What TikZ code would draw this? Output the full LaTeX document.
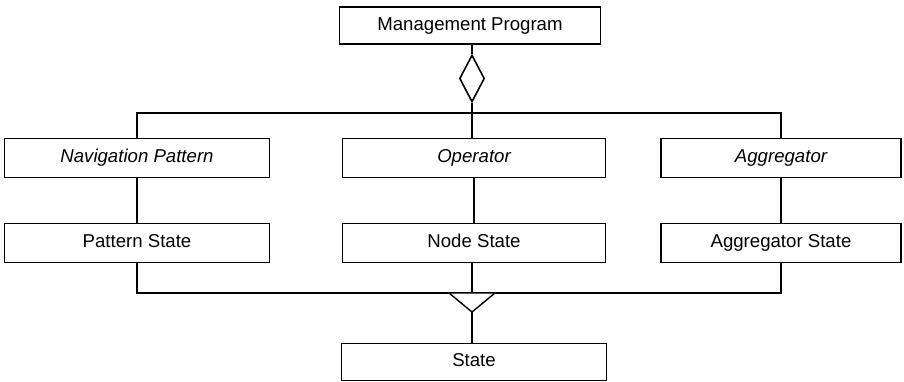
\documentclass[tikz,border=0pt]{standalone}
\usepackage{fontspec}
\setmainfont{Liberation Sans}
\usetikzlibrary{shapes,calc,positioning}
\tikzstyle{block} = [draw, fill=white, rectangle, line width=0.9pt,
	minimum height=0.78cm, minimum width=5.3cm, inner sep=0pt, text height=2.7mm, text depth=0.8mm,
	font=\fontsize{10.6}{12.7}\selectfont]
\tikzstyle{whole} = [draw, diamond, line width=0.9pt, minimum width=0.5cm, minimum height=0.94cm, inner sep=0pt]
\tikzstyle{link} = [line width=0.8pt]

\begin{document}
\begin{tikzpicture}[x=0.02cm, y=-0.02cm, node distance=1.7cm]
	\useasboundingbox (0,0) rectangle (904,382);
	\node [block, minimum width=5.22cm, minimum height=0.74cm] (mp) at (470,25.5) {Management Program};
	\node [whole] (dia) at (472,78.5) {};
	\node [block] (nav) at (137,158) {\itshape Navigation Pattern};
	\node [block, minimum width=5.26cm] (op) at (474,158) {\itshape Operator};
	\node [block, minimum width=4.8cm] (agr) at (781,158) {\itshape Aggregator};
	\node [block, below of=nav] (ps) {Pattern State};
	\node [block, minimum width=5.26cm, below of=op] (ns) {Node State};
	\node [block, minimum width=4.8cm, below of=agr] (as) {Aggregator State};
	\node [block, minimum width=5.3cm, minimum height=0.74cm, below of=ns, node distance=2.38cm] (st) {State};
	\coordinate (topbus) at (472,113);
	\coordinate (botbus) at (472,293);
	\coordinate (tri) at (472,312);

	\draw[link] (mp.south -| dia.north) -- (dia.north);
	\draw[link] (dia.south) -- (dia.south |- op.north);
	\draw[link] (nav.north) |- (topbus) -| (agr.north);
	\draw[link] (nav) -- (ps);
	\draw[link] (op) -- (ns);
	\draw[link] (agr) -- (as);
	\draw[link] (ps.south) |- (botbus) -| (as.south);
	\draw[link] (botbus |- ns.south) -- (botbus);
	\draw[link, fill=white] ($(tri)+(-23,-19)$) -- (tri) -- ($(tri)+(23,-19)$) -- cycle;
	\draw[link] (tri) -- (tri |- st.north);

\end{tikzpicture}
\end{document}
